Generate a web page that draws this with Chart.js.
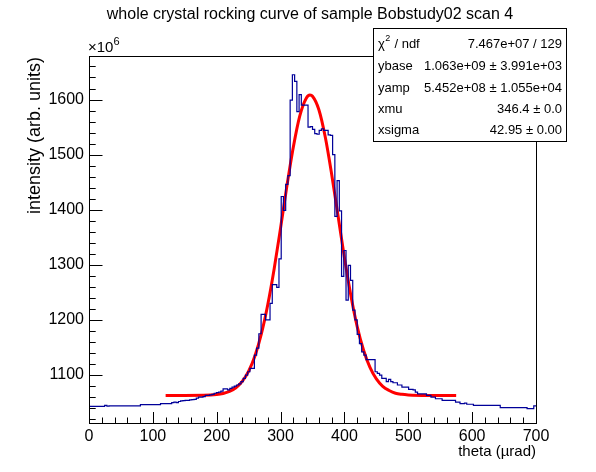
<!DOCTYPE html>
<html>
<head>
<meta charset="utf-8">
<script src="https://cdn.jsdelivr.net/npm/chart.js@4.4.1/dist/chart.umd.min.js"></script>
<style>
  html, body { margin: 0; padding: 0; background: #fff; }
  #wrap { width: 596px; height: 472px; }
</style>
</head>
<body>
<div id="wrap"><canvas id="rocking" width="596" height="472"></canvas></div>
<script>
// histogram: 200 bins of 3.5 urad from 0 to 700, counts in units of 1e6
const binWidth = 3.5;
const counts = [
  1043, 1043, 1043, 1043, 1043, 1043, 1043, 1045, 1043.5, 1044,
  1044, 1044, 1044, 1044, 1044, 1044, 1044, 1044, 1044, 1044,
  1044, 1044, 1044, 1046.5, 1046.5, 1046.5, 1046.5, 1046.5, 1046.5, 1046.5,
  1046.5, 1046.5, 1048, 1048, 1048, 1048, 1048, 1050, 1051, 1050,
  1052, 1053, 1053.7, 1054, 1054, 1055, 1055.5, 1056, 1058, 1060,
  1060, 1061, 1063, 1063, 1064, 1065, 1067, 1068, 1069, 1071,
  1075, 1075, 1073, 1076, 1078, 1080, 1082, 1084, 1088, 1094,
  1100, 1106, 1112, 1112, 1136, 1149, 1175, 1210, 1210, 1200,
  1200, 1230, 1264, 1264, 1259, 1311, 1424, 1399, 1446, 1462,
  1599, 1645, 1633, 1578, 1609, 1590, 1590, 1590, 1550, 1551,
  1546, 1538, 1537, 1544, 1547, 1544, 1544, 1536, 1535, 1500,
  1388, 1453, 1398, 1279, 1326, 1236, 1299, 1272, 1218, 1200,
  1174, 1157, 1142, 1136, 1128, 1128, 1128, 1128, 1106, 1103,
  1100, 1094, 1094, 1088, 1092, 1088, 1086, 1086, 1082, 1082,
  1078, 1078, 1078, 1074, 1074, 1073, 1069, 1066, 1066, 1066,
  1066, 1063, 1063, 1060, 1060, 1057, 1057, 1057, 1054, 1054,
  1054, 1054, 1054, 1054, 1051, 1051, 1048, 1048, 1049, 1047,
  1047, 1047, 1045, 1045, 1045, 1045, 1045, 1045, 1045, 1045,
  1045, 1045, 1045, 1045, 1041, 1041, 1041, 1041, 1041, 1041,
  1041, 1041, 1041, 1041, 1041, 1041, 1039, 1039, 1039, 1044
];

// gaussian fit curve
const fitTheta = [120, 150, 180, 200, 210, 220, 230, 240, 250, 260, 270, 280, 290, 300, 310, 320, 330, 340, 346,
  350, 360, 370, 380, 390, 400, 410, 420, 430, 440, 450, 460, 470, 480, 490, 500, 530, 575];
const fitIntensity = [1063, 1063, 1063.2, 1064.6, 1066.5, 1070.2, 1076.9, 1088.4, 1107, 1135, 1175, 1228, 1293, 1367, 1444, 1514, 1570, 1602, 1608,
  1606, 1581.5, 1532, 1464.5, 1389, 1313, 1245, 1188, 1145, 1114, 1093, 1079.5, 1072, 1067, 1065, 1064, 1063.1, 1063];

const statNames = ['ybase', 'yamp', 'xmu', 'xsigma'];
const statValues = ['7.467e+07 / 129', '1.063e+09 \u00b1 3.991e+03', '5.452e+08 \u00b1 1.055e+04', '346.4 \u00b1 0.0', '42.95 \u00b1 0.00'];

const FONT = '"Liberation Sans", Arial, Helvetica, sans-serif';

const histPoints = counts.map((c, i) => ({ x: i * binWidth, y: c }));
histPoints.push({ x: counts.length * binWidth, y: counts[counts.length - 1] });
const fitPoints = fitTheta.map((t, i) => ({ x: t, y: fitIntensity[i] }));

// ROOT-like decorations: frame, inward ticks, titles and stats box
const rootStyle = {
  id: 'rootStyle',
  afterDraw(chart) {
    const { ctx, chartArea: a, scales: { x, y } } = chart;
    ctx.save();
    ctx.strokeStyle = '#000';
    ctx.lineWidth = 1;
    ctx.strokeRect(Math.round(a.left) + 0.5, Math.round(a.top) + 0.5,
      Math.round(a.right - a.left), Math.round(a.bottom - a.top));

    ctx.beginPath();
    for (let v = 0; v <= 700; v += 20) {
      const px = Math.round(x.getPixelForValue(v)) + 0.5;
      const len = v % 100 === 0 ? 11 : 5.5;
      ctx.moveTo(px, a.bottom);
      ctx.lineTo(px, a.bottom - len);
    }
    for (let v = 1020; v <= 1670; v += 20) {
      const py = Math.round(y.getPixelForValue(v)) + 0.5;
      const len = v % 100 === 0 ? 13.5 : 6.7;
      ctx.moveTo(a.left, py);
      ctx.lineTo(a.left + len, py);
    }
    ctx.stroke();

    ctx.fillStyle = '#000';
    ctx.font = '16px ' + FONT;
    ctx.textBaseline = 'middle';
    ctx.textAlign = 'center';
    ctx.fillText('whole crystal rocking curve of sample Bobstudy02 scan 4', 310, 15);

    ctx.textAlign = 'right';
    ctx.font = '15px ' + FONT;
    ctx.fillText('theta (\u00b5rad)', a.right, 452);

    ctx.save();
    ctx.font = '18px ' + FONT;
    ctx.translate(35, a.top + 1);
    ctx.rotate(-Math.PI / 2);
    ctx.fillText('intensity (arb. units)', 0, 0);
    ctx.restore();

    ctx.textAlign = 'left';
    ctx.font = '15px ' + FONT;
    ctx.fillText('\u00d710', a.left - 1, 48);
    const w10 = ctx.measureText('\u00d710').width;
    ctx.font = '11px ' + FONT;
    ctx.fillText('6', a.left - 1 + w10, 42);

    // stats box
    const bx = 373, by = 28, bw = 193, bh = 113;
    ctx.fillStyle = '#fff';
    ctx.fillRect(bx, by, bw, bh);
    ctx.strokeRect(bx + 0.5, by + 0.5, bw, bh);
    ctx.fillStyle = '#000';
    const rowY = [44, 66, 88, 109, 130];
    ctx.font = '13px ' + FONT;
    ctx.textAlign = 'left';
    ctx.fillText('\u03c7', 378, rowY[0]);
    const wChi = ctx.measureText('\u03c7').width;
    ctx.font = '9px ' + FONT;
    ctx.fillText('2', 378 + wChi + 0.5, rowY[0] - 5);
    ctx.font = '13px ' + FONT;
    ctx.fillText(' / ndf', 378 + wChi + 6, rowY[0]);
    statNames.forEach((n, i) => ctx.fillText(n, 378, rowY[i + 1]));
    ctx.textAlign = 'right';
    statValues.forEach((s, i) => ctx.fillText(s, 562, rowY[i]));
    ctx.restore();
  }
};

new Chart(document.getElementById('rocking'), {
  type: 'line',
  data: {
    datasets: [
      {
        label: 'histogram',
        data: histPoints,
        stepped: 'before',
        borderColor: '#000099',
        borderWidth: 1.2,
        pointRadius: 0,
        fill: false,
      },
      {
        label: 'fit',
        data: fitPoints,
        cubicInterpolationMode: 'monotone',
        borderColor: '#ff0000',
        borderWidth: 3,
        pointRadius: 0,
        fill: false,
      },
    ],
  },
  options: {
    responsive: false,
    animation: false,
    devicePixelRatio: 1,
    layout: { padding: { top: 56, right: 60, left: 0, bottom: 0 } },
    plugins: { legend: { display: false }, tooltip: { enabled: false }, title: { display: false } },
    scales: {
      x: {
        type: 'linear',
        min: 0,
        max: 700,
        grid: { display: false, drawTicks: false },
        border: { display: false },
        ticks: { stepSize: 100, padding: 4, color: '#000', font: { family: FONT, size: 16 }, maxRotation: 0,
          callback: (v) => String(v) },
        afterFit(scale) { scale.height = 49; },
      },
      y: {
        type: 'linear',
        min: 1013,
        max: 1679,
        grid: { display: false, drawTicks: false },
        border: { display: false },
        ticks: { stepSize: 100, includeBounds: false, padding: 5, color: '#000', font: { family: FONT, size: 16 },
          callback: (v) => String(v) },
        afterFit(scale) { scale.width = 89; },
      },
    },
  },
  plugins: [rootStyle],
});
</script>
</body>
</html>
